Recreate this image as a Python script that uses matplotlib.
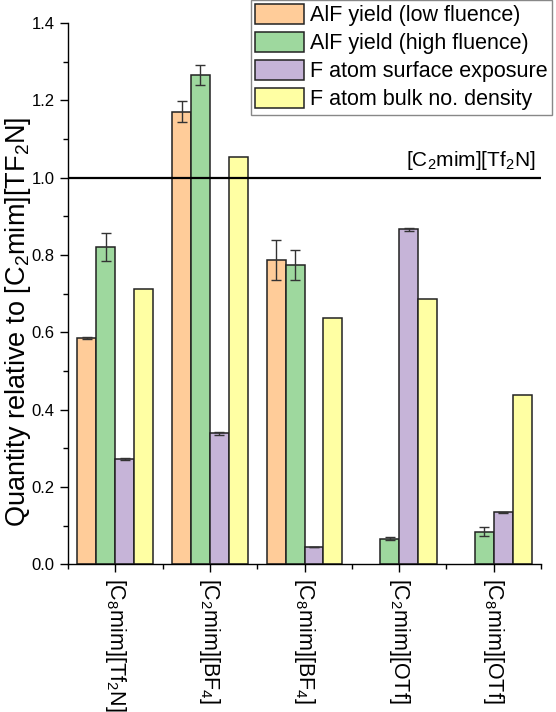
import numpy as np
import matplotlib
matplotlib.use('Agg')
import matplotlib.pyplot as plt
from matplotlib.ticker import MultipleLocator, FixedLocator, FormatStrFormatter

plt.rcParams['font.family'] = ['Liberation Sans', 'DejaVu Sans']
plt.rcParams['mathtext.fontset'] = 'custom'
plt.rcParams['mathtext.rm'] = 'Liberation Sans'
plt.rcParams['mathtext.it'] = 'Liberation Sans:italic'
plt.rcParams['mathtext.bf'] = 'Liberation Sans:bold'

categories = ['[C$_8$mim][Tf$_2$N]', '[C$_2$mim][BF$_4$]', '[C$_8$mim][BF$_4$]',
              '[C$_2$mim][OTf]', '[C$_8$mim][OTf]']
series_names = ['AlF yield (low fluence)', 'AlF yield (high fluence)',
                'F atom surface exposure', 'F atom bulk no. density']
alf_low = [0.585, 1.171, 0.787, np.nan, np.nan]
alf_low_err = [0.002, 0.026, 0.052, np.nan, np.nan]
alf_high = [0.821, 1.266, 0.774, 0.066, 0.084]
alf_high_err = [0.037, 0.026, 0.039, 0.004, 0.012]
surf_exp = [0.272, 0.339, 0.046, 0.867, 0.134]
surf_exp_err = [0.003, 0.004, 0.0, 0.004, 0.002]
bulk_density = [0.712, 1.053, 0.636, 0.687, 0.438]
bulk_density_err = [np.nan] * 5
ref_label = '[C$_2$mim][Tf$_2$N]'
ref_value = 1.0

colors = ['#FFCC99', '#9ED89E', '#C6B4D8', '#FFFFA3']

fig = plt.figure(figsize=(5.56, 7.12), dpi=100)
ax = fig.add_axes([68 / 556, 1 - 564.3 / 712, (541 - 68) / 556, (564.3 - 23) / 712])

x = np.arange(len(categories))
w = 0.2
series = [(alf_low, alf_low_err), (alf_high, alf_high_err),
          (surf_exp, surf_exp_err), (bulk_density, bulk_density_err)]
for i, ((vals, errs), name, c) in enumerate(zip(series, series_names, colors)):
    pos = x + (i - 1.5) * w
    ax.bar(pos, vals, width=w, color=c, edgecolor='#222222', linewidth=1.1,
           label=name, zorder=2)
    ax.errorbar(pos, vals, yerr=errs, fmt='none', ecolor='#333333',
                elinewidth=1.0, capsize=3.5, capthick=1.0, zorder=3)

ax.axhline(ref_value, color='black', linewidth=1.6, zorder=4)
ax.text(4.44, ref_value + 0.015, ref_label, ha='right', va='bottom', fontsize=15)

ax.set_xlim(-0.5, 4.5)
ax.set_ylim(0, 1.4)
ax.spines['top'].set_visible(False)
ax.spines['right'].set_visible(False)
ax.spines['left'].set_linewidth(1.0)
ax.spines['bottom'].set_linewidth(1.0)

ax.yaxis.set_major_locator(MultipleLocator(0.2))
ax.yaxis.set_minor_locator(MultipleLocator(0.1))
ax.yaxis.set_major_formatter(FormatStrFormatter('%.1f'))
ax.set_xticks(x)
ax.set_xticklabels(categories, rotation=270, ha='center', va='top', fontsize=15.5)
ax.xaxis.set_minor_locator(FixedLocator(np.arange(-0.5, 4.6, 1.0)))
ax.tick_params(axis='both', which='major', direction='out', length=6, width=1.0,
               labelsize=12)
ax.tick_params(axis='x', which='major', labelsize=15.5, pad=4)
ax.tick_params(axis='both', which='minor', direction='out', length=3.5, width=1.0)

ax.set_ylabel('Quantity relative to [C$_2$mim][TF$_2$N]', fontsize=19.5,
              va='center')
ax.yaxis.set_label_coords(-0.105, 0.448)

leg = fig.legend(loc='upper right', bbox_to_anchor=(552 / 556, 1.0),
                 fontsize=15.5, frameon=True, fancybox=False,
                 edgecolor='#888888', framealpha=1, borderpad=0.2,
                 handlelength=2.25, handleheight=1.0, handletextpad=0.3,
                 labelspacing=0.28, borderaxespad=0)
leg.get_frame().set_linewidth(1.0)

fig.savefig('out.png', dpi=100)
